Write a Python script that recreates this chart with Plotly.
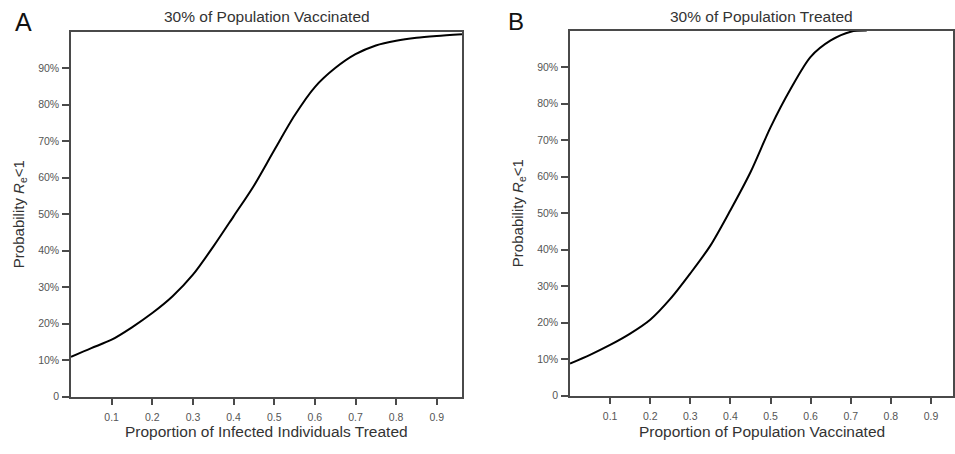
import plotly.graph_objects as go

# Panel A: 30% of population vaccinated, x = proportion of infected individuals treated
a_x = [0.00, 0.05, 0.10, 0.15, 0.20, 0.25, 0.30, 0.35, 0.40, 0.45, 0.50, 0.55,
       0.60, 0.65, 0.70, 0.75, 0.80, 0.85, 0.90, 0.962]
a_y = [0.109, 0.133, 0.156, 0.190, 0.229, 0.275, 0.334, 0.411, 0.494, 0.578, 0.675, 0.770,
       0.848, 0.900, 0.938, 0.962, 0.975, 0.983, 0.988, 0.993]

# Panel B: 30% of population treated, x = proportion of population vaccinated
b_x = [0.00, 0.05, 0.10, 0.15, 0.20, 0.25, 0.30, 0.35, 0.40, 0.45, 0.50, 0.55,
       0.60, 0.65, 0.70, 0.74]
b_y = [0.088, 0.112, 0.139, 0.170, 0.208, 0.265, 0.335, 0.411, 0.508, 0.612, 0.735, 0.840,
       0.928, 0.973, 0.997, 1.000]

y_tickvals = [0, 0.1, 0.2, 0.3, 0.4, 0.5, 0.6, 0.7, 0.8, 0.9]
y_ticktext = ["0", "10%", "20%", "30%", "40%", "50%", "60%", "70%", "80%", "90%"]
x_tickvals = [0.1, 0.2, 0.3, 0.4, 0.5, 0.6, 0.7, 0.8, 0.9]
x_ticktext = ["0.1", "0.2", "0.3", "0.4", "0.5", "0.6", "0.7", "0.8", "0.9"]

titles = ["30% of Population Vaccinated", "30% of Population Treated"]
xtitles = ["Proportion of Infected Individuals Treated", "Proportion of Population Vaccinated"]
ytitle = "Probability <i>R</i><sub>e</sub><1"

W, H = 955, 454
FONT = "Liberation Sans, Arial, sans-serif"
AX = "#4a4a4a"
TXT = "#333333"

fig = go.Figure()
fig.add_trace(go.Scatter(x=a_x, y=a_y, mode="lines",
                         line=dict(color="black", width=2, shape="spline", smoothing=0.8),
                         xaxis="x", yaxis="y", showlegend=False))
fig.add_trace(go.Scatter(x=b_x, y=b_y, mode="lines",
                         line=dict(color="black", width=2, shape="spline", smoothing=0.8),
                         xaxis="x2", yaxis="y2", showlegend=False))

# pixel boxes for the two plot areas
boxes = [(71, 462, 32, 402), (570, 953, 31, 401)]
xranges = [[0, 0.962], [0, 0.955]]

common = dict(showline=True, mirror=True, linecolor=AX, linewidth=1.5,
              ticks="outside", ticklen=7, tickwidth=1.5, tickcolor=AX,
              showgrid=False, zeroline=False,
              tickfont=dict(family=FONT, size=10.5, color="#555555"))

layout = dict(width=W, height=H, margin=dict(l=0, r=0, t=0, b=0),
              paper_bgcolor="white", plot_bgcolor="white", showlegend=False)

for i, (x0, x1, y0, y1) in enumerate(boxes):
    sfx = "" if i == 0 else str(i + 1)
    layout["xaxis" + sfx] = dict(domain=[x0 / W, x1 / W], range=xranges[i],
                                 tickvals=x_tickvals, ticktext=x_ticktext,
                                 ticklabelstandoff=3,
                                 anchor="y" + sfx, **common)
    layout["yaxis" + sfx] = dict(domain=[1 - y1 / H, 1 - y0 / H], range=[0, 1.0],
                                 tickvals=y_tickvals, ticktext=y_ticktext,
                                 ticklabelstandoff=1,
                                 anchor="x" + sfx, **common)

fig.update_layout(**layout)

ann = []
for i, (x0, x1, y0, y1) in enumerate(boxes):
    cx = (x0 + x1) / 2 / W
    ann.append(dict(text=titles[i], x=cx, y=1 - 17 / H, xref="paper", yref="paper",
                    xanchor="center", yanchor="middle", showarrow=False,
                    font=dict(family=FONT, size=15.5, color=TXT)))
    ann.append(dict(text=xtitles[i], x=cx, y=1 - 437 / H, xref="paper", yref="paper",
                    xanchor="center", yanchor="middle", showarrow=False,
                    font=dict(family=FONT, size=15.5, color=TXT)))
    ann.append(dict(text=ytitle, x=(x0 - 52) / W, y=1 - ((y0 + y1) / 2) / H,
                    xref="paper", yref="paper", textangle=-90,
                    xanchor="center", yanchor="middle", showarrow=False,
                    font=dict(family=FONT, size=15, color=TXT)))
ann.append(dict(text="A", x=23 / W, y=1 - 22 / H, xref="paper", yref="paper",
                xanchor="center", yanchor="middle", showarrow=False,
                font=dict(family=FONT, size=25, color="#111111")))
ann.append(dict(text="B", x=516 / W, y=1 - 22 / H, xref="paper", yref="paper",
                xanchor="center", yanchor="middle", showarrow=False,
                font=dict(family=FONT, size=24, color="#111111")))
fig.update_layout(annotations=ann)

fig.write_html("out.html")
